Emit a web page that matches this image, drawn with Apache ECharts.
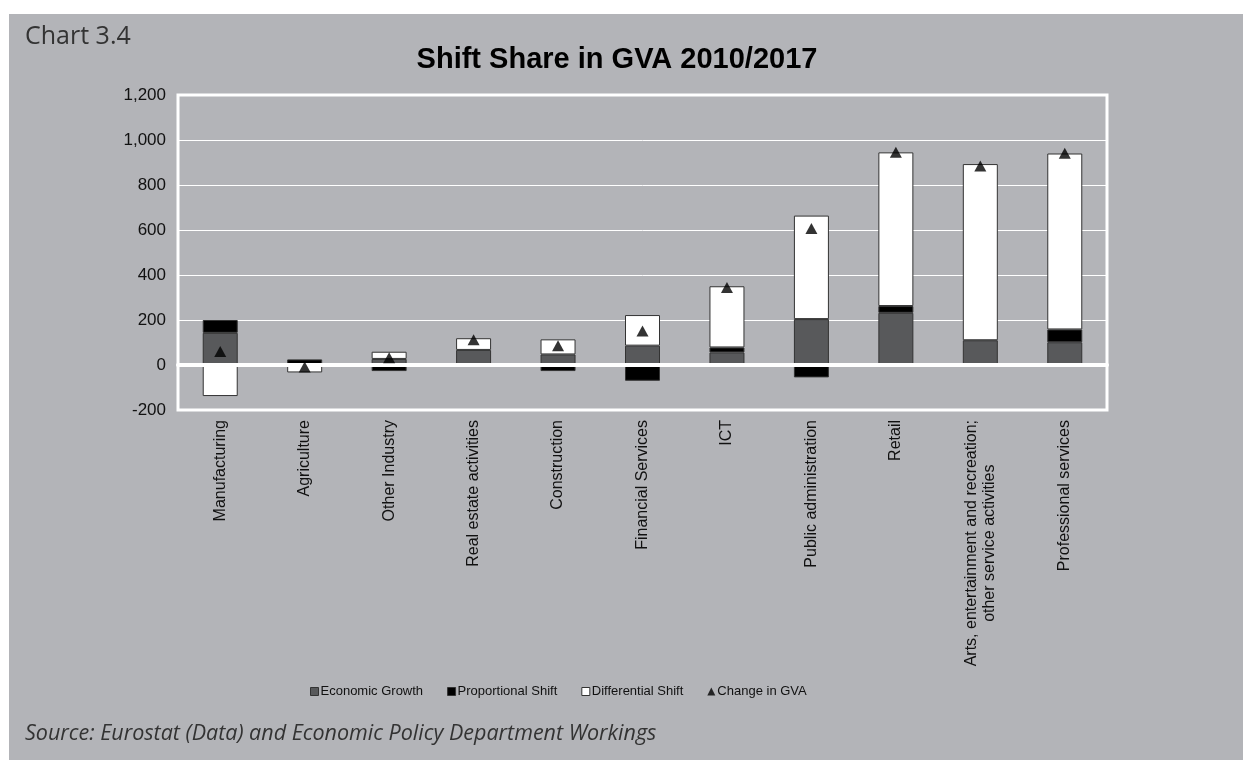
<!DOCTYPE html>
<html>
<head>
<meta charset="utf-8">
<title>Shift Share in GVA 2010/2017</title>
<script src="https://cdn.jsdelivr.net/npm/echarts@6/dist/echarts.min.js"></script>
<style>
  html, body { margin: 0; padding: 0; background: #fff; }
  #main { position: absolute; left: 9px; top: 14px; width: 1234px; height: 746px; background: #b3b4b8; }
</style>
</head>
<body>
<div id="main"></div>
<script>
// sectors
var categories = [
  'Manufacturing',
  'Agriculture',
  'Other Industry',
  'Real estate activities',
  'Construction',
  'Financial Services',
  'ICT',
  'Public administration',
  'Retail',
  'Arts, entertainment and recreation;\nother service activities',
  'Professional services'
]

// shift share components
var economicGrowth = [143, 3, 27, 67, 47, 86, 56, 204, 232, 110, 101]
var proportionalShift = [57, 22, -27, -4, -27, -70, 22, -55, 30, -4, 57]
var differentialShift = [-138, -33, 32, 52, 67, 136, 272, 460, 683, 783, 782]
var changeInGVA = [60, -9, 32, 112, 86, 151, 345, 607, 946, 885, 941]

var yTicks = { min: -200, max: 1200, step: 200 }

var myChart = echarts.init(document.getElementById('main'))

var barStyle = function(color) {
  return { color: color, borderColor: '#333', borderWidth: 1 }
}

myChart.setOption({
  animation: false,
  textStyle: { fontFamily: 'Liberation Sans, Arial, sans-serif' },
  graphic: [
    {
      type: 'text',
      left: 16,
      top: 10,
      style: { text: 'Chart 3.4', font: '25px "Open Sans"', fill: '#333' }
    },
    {
      type: 'text',
      x: 608,
      y: 46,
      style: {
        text: 'Shift Share in GVA 2010/2017',
        font: 'bold 29px "Liberation Sans", Arial',
        fill: '#000',
        textAlign: 'center',
        textVerticalAlign: 'middle'
      }
    },
    {
      type: 'text',
      left: 16,
      top: 709,
      style: {
        text: 'Source: Eurostat (Data) and Economic Policy Department Workings',
        font: 'italic 21.5px "Open Sans"',
        fill: '#333'
      }
    }
  ],
  legend: {
    left: 296,
    top: 666,
    itemWidth: 8,
    itemHeight: 8,
    itemGap: 24,
    itemStyle: { borderColor: '#333', borderWidth: 1 },
    textStyle: { fontSize: 13, color: '#111', padding: [0, 0, 0, -3] },
    data: [
      { name: 'Economic Growth', icon: 'rect' },
      { name: 'Proportional Shift', icon: 'rect' },
      { name: 'Differential Shift', icon: 'rect' },
      { name: 'Change in GVA', icon: 'triangle', itemStyle: { borderWidth: 0 } }
    ]
  },
  grid: {
    left: 169,
    right: 136,
    top: 81,
    bottom: 350,
    show: true,
    borderColor: '#fff',
    borderWidth: 3,
    backgroundColor: 'transparent'
  },
  xAxis: {
    type: 'category',
    data: categories,
    z: 5,
    axisLine: { onZero: true, lineStyle: { color: '#fff', width: 4 } },
    axisTick: { show: false },
    axisLabel: {
      rotate: 90,
      margin: 10,
      interval: 0,
      fontSize: 16,
      color: '#111',
      formatter: function(v) {
        return v.split('\n').map(function(s) { return '{c|' + s + '}' }).join('\n')
      },
      rich: { c: { align: 'center', fontSize: 16, color: '#111', lineHeight: 18 } }
    }
  },
  yAxis: {
    type: 'value',
    min: yTicks.min,
    max: yTicks.max,
    interval: yTicks.step,
    axisLine: { show: false },
    axisTick: { show: false },
    axisLabel: {
      margin: 12,
      fontSize: 17,
      color: '#111',
      formatter: function(v) { return v.toLocaleString('en-US') }
    },
    splitLine: { lineStyle: { color: '#fff', width: 1 } }
  },
  series: [
    {
      name: 'Economic Growth',
      type: 'bar',
      stack: 'gva',
      barWidth: 35,
      itemStyle: barStyle('#58595b'),
      data: economicGrowth
    },
    {
      name: 'Proportional Shift',
      type: 'bar',
      stack: 'gva',
      itemStyle: barStyle('#000'),
      data: proportionalShift
    },
    {
      name: 'Differential Shift',
      type: 'bar',
      stack: 'gva',
      itemStyle: barStyle('#fff'),
      data: differentialShift
    },
    {
      name: 'Change in GVA',
      type: 'scatter',
      symbol: 'triangle',
      symbolSize: [12, 11],
      z: 6,
      itemStyle: { color: '#000' },
      data: changeInGVA
    }
  ]
})
</script>
</body>
</html>
